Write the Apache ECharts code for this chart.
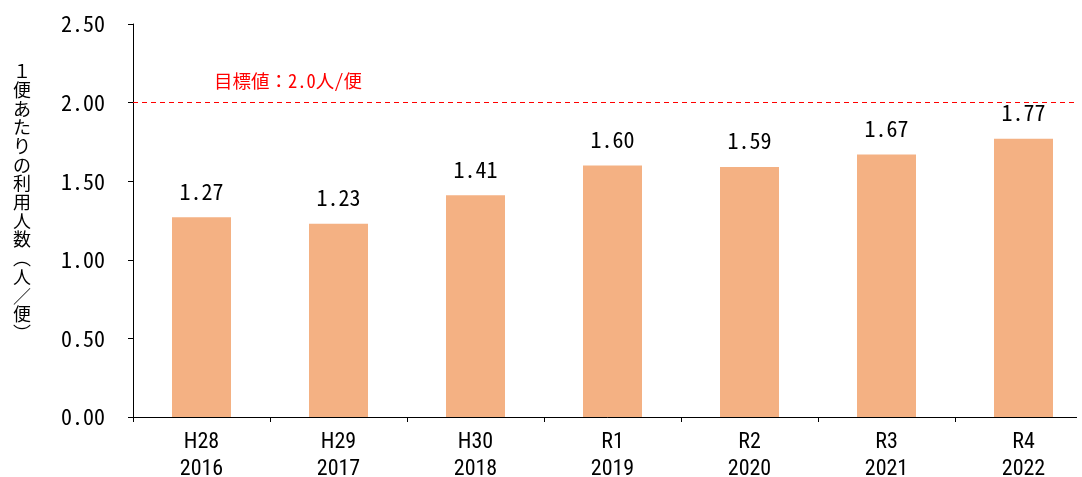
<!DOCTYPE html>
<html>
<head>
<meta charset="utf-8">
<script src="https://cdn.jsdelivr.net/npm/echarts@6/dist/echarts.min.js"></script>
<style>
  html, body { margin: 0; padding: 0; background: #fff; }
  #chart { width: 1082px; height: 477px; }
</style>
</head>
<body>
<div id="chart"></div>
<script>
// Passengers per trip by fiscal year
const eraLabels = ['H28', 'H29', 'H30', 'R1', 'R2', 'R3', 'R4'];
const yearLabels = ['2016', '2017', '2018', '2019', '2020', '2021', '2022'];
const perTrip = [1.27, 1.23, 1.41, 1.60, 1.59, 1.67, 1.77];
const targetValue = 2.0;
const targetText = '目標値：2.0人/便';
const yAxisTitle = ['１', '便', 'あ', 'た', 'り', 'の', '利', '用', '人', '数', '︵', '人', '／', '便', '︶'];

const monoFont = '"Noto Sans Mono CJK JP", "DejaVu Sans Mono", monospace';
const narrowFont = '"Roboto Condensed", "Liberation Sans", sans-serif';
const cjkFont = '"Noto Sans CJK JP", sans-serif';

const categories = eraLabels.map((e, i) => e + '\n' + yearLabels[i]);

const chart = echarts.init(document.getElementById('chart'), null, { renderer: 'canvas' });
chart.setOption({
  animation: false,
  backgroundColor: '#ffffff',
  grid: { left: 133, right: -10, top: 24, bottom: 60, containLabel: false, outerBoundsMode: 'none' },
  xAxis: {
    type: 'category',
    data: categories,
    axisLine: { lineStyle: { color: '#000', width: 1 } },
    axisTick: { show: true, length: 5, lineStyle: { color: '#000' } },
    axisLabel: {
      color: '#000', fontFamily: narrowFont, fontSize: 22, lineHeight: 27, margin: 12
    }
  },
  yAxis: {
    type: 'value',
    min: 0, max: 2.5, interval: 0.5,
    splitLine: { show: false },
    axisLine: { show: true, lineStyle: { color: '#000', width: 1 } },
    axisTick: { show: true, length: 5, lineStyle: { color: '#000' } },
    axisLabel: {
      color: '#000', fontFamily: monoFont, fontSize: 22, margin: 28,
      formatter: v => v.toFixed(2)
    }
  },
  graphic: [{
    // vertical axis title, one character per line
    type: 'text',
    left: 13, top: 62,
    style: {
      text: yAxisTitle.join('\n'),
      font: '18px ' + cjkFont,
      lineHeight: 18.7,
      fill: '#000',
      align: 'center'
    }
  }, {
    // trims the plot at the right edge of the frame
    type: 'rect',
    right: 0, top: 60,
    shape: { width: 5, height: 362 },
    style: { fill: '#ffffff' },
    z: 100
  }],
  series: [{
    type: 'bar',
    data: perTrip,
    barWidth: 59,
    itemStyle: { color: '#F4B183' },
    label: {
      show: true, position: 'top', distance: 15,
      color: '#000', fontFamily: monoFont, fontSize: 22,
      formatter: p => p.value.toFixed(2)
    },
    markLine: {
      symbol: 'none',
      silent: true,
      lineStyle: { color: '#FF0000', type: [5, 4], width: 1 },
      label: {
        show: true,
        position: 'insideStartTop',
        formatter: targetText,
        color: '#FF0000',
        fontFamily: monoFont,
        fontSize: 18.5,
        padding: [0, 0, 7, 76]
      },
      data: [{ yAxis: targetValue }]
    }
  }]
});
</script>
</body>
</html>
